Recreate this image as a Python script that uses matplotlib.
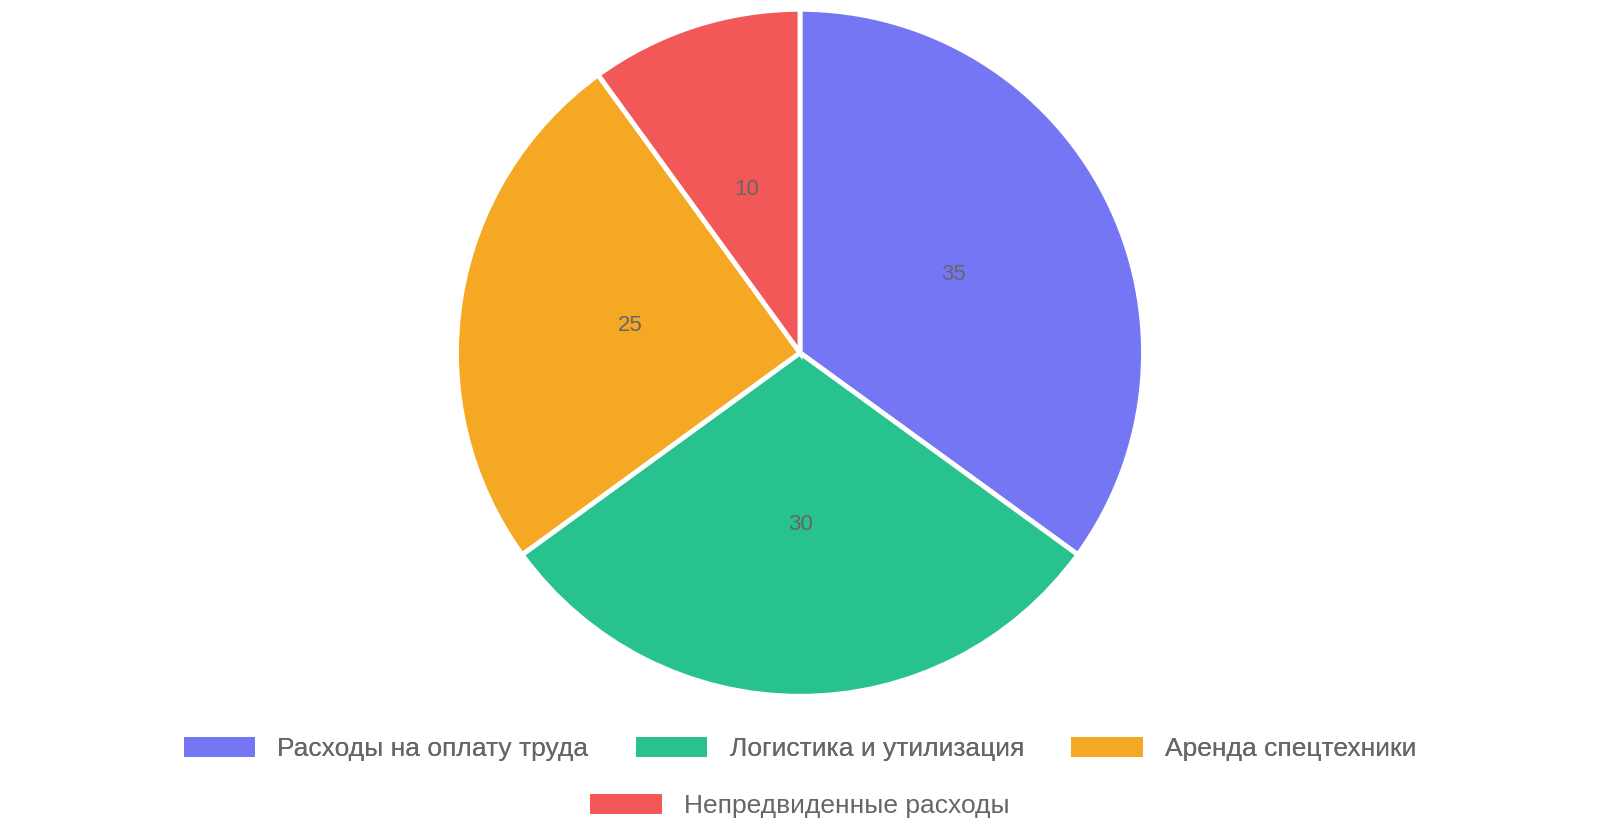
import matplotlib
matplotlib.use("Agg")
import matplotlib.pyplot as plt
from matplotlib.patches import Patch

labels = ["Расходы на оплату труда", "Логистика и утилизация", "Аренда спецтехники", "Непредвиденные расходы"]
values = [35, 30, 25, 10]
colors = ["#7476F3", "#28C28F", "#F5A823", "#F25858"]

plt.rcParams['font.family'] = ['Liberation Sans', 'DejaVu Sans']
fig = plt.figure(figsize=(16, 8.4), dpi=100)
ax = fig.add_axes([0.283, 0.167, 0.434, 0.826])
wedges, texts = ax.pie(values, colors=colors, startangle=90, counterclock=False,
                       labels=[str(v) for v in values], labeldistance=0.5,
                       wedgeprops=dict(edgecolor="white", linewidth=3.5),
                       textprops=dict(color="#666666", fontsize=16))
for t in texts:
    t.set_ha("center"); t.set_va("center")
ax.set_xlim(-1.01, 1.01); ax.set_ylim(-1.01, 1.01)
ax.set_aspect("equal")

h = [Patch(facecolor=c) for c in colors]
kw = dict(frameon=False, fontsize=19, labelcolor="#666666", handlelength=2.7,
          handleheight=0.76, handletextpad=0.85, columnspacing=1.8, loc="center")
l1 = fig.legend(h[:3], labels[:3], ncol=3, bbox_to_anchor=(0.5, 0.108), **kw)
fig.add_artist(l1)
fig.legend(h[3:], labels[3:], ncol=1, bbox_to_anchor=(0.5, 0.04), **kw)
fig.savefig("out.png", dpi=100)
